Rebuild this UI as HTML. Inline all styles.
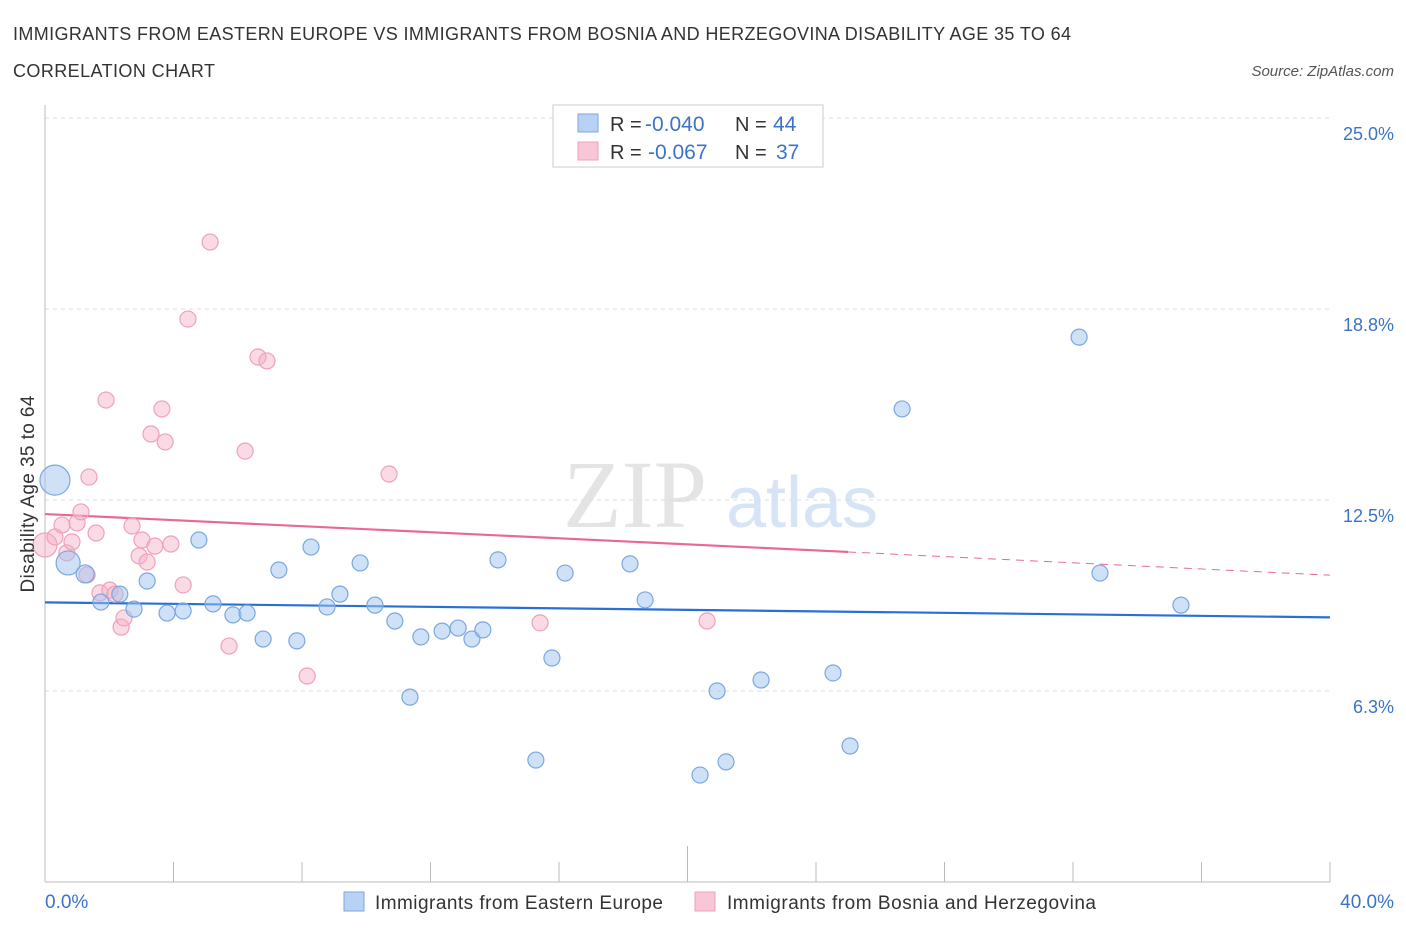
<!DOCTYPE html>
<html><head><meta charset="utf-8"><style>
body{margin:0;background:#fff;font-family:"Liberation Sans",sans-serif;}
</style></head><body>
<svg id="chart" width="1406" height="930" xmlns="http://www.w3.org/2000/svg">
<text x="13" y="40" font-size="18" fill="#333" textLength="1058">IMMIGRANTS FROM EASTERN EUROPE VS IMMIGRANTS FROM BOSNIA AND HERZEGOVINA DISABILITY AGE 35 TO 64</text>
<text x="13" y="77" font-size="18" fill="#333" textLength="202">CORRELATION CHART</text>
<text x="1394" y="76" font-size="15" fill="#555" font-style="italic" text-anchor="end">Source: ZipAtlas.com</text>
<g>
<text x="635" y="527" font-size="96" fill="#e4e4e4" text-anchor="middle" font-family="Liberation Serif,serif">ZIP</text>
<text x="802" y="527" font-size="72" fill="#d6e4f5" text-anchor="middle">atlas</text>
</g>
<g id="grid"></g>
<g id="axes"></g>
<g id="lines"></g>
<g id="pts"></g>
<g>
<rect x="553" y="105" width="270" height="62" fill="#fff" stroke="#ccc"/>
<rect x="578" y="114" width="20" height="18" fill="#b8d2f5" stroke="#7aa7e0"/>
<rect x="578" y="142" width="20" height="18" fill="#f8c6d6" stroke="#f0a0b8"/>
<text x="610" y="131" font-size="20" fill="#333">R =</text>
<text x="645" y="131" font-size="21" fill="#3b73c8">-0.040</text>
<text x="735" y="131" font-size="20" fill="#333">N =</text>
<text x="773" y="131" font-size="21" fill="#3b73c8">44</text>
<text x="610" y="159" font-size="20" fill="#333">R =</text>
<text x="648" y="159" font-size="21" fill="#3b73c8">-0.067</text>
<text x="735" y="159" font-size="20" fill="#333">N =</text>
<text x="776" y="159" font-size="21" fill="#3b73c8">37</text>
</g>
<text transform="translate(34,494) rotate(-90)" font-size="19" fill="#333" text-anchor="middle" textLength="197">Disability Age 35 to 64</text>
<text x="45" y="908" font-size="19" fill="#3b73c8">0.0%</text>
<text x="1394" y="908" font-size="19" fill="#3b73c8" text-anchor="end">40.0%</text>
<g>
<rect x="344" y="892" width="20" height="19" fill="#b8d2f5" stroke="#7aa7e0"/>
<text x="375" y="909" font-size="19" fill="#333" textLength="288">Immigrants from Eastern Europe</text>
<rect x="695" y="892" width="20" height="19" fill="#f8c6d6" stroke="#f0a0b8"/>
<text x="727" y="909" font-size="19" fill="#333" textLength="369">Immigrants from Bosnia and Herzegovina</text>
</g>
</svg>
<script>
const yTicks=[25.0,18.75,12.5,6.25];
const yTickLabels=["25.0%","18.8%","12.5%","6.3%"];
const xTicks=[0,4,8,12,16,20,24,28,32,36,40];
const blueX=[0.31,0.72,1.25,1.74,2.33,2.77,3.18,3.80,4.30,4.79,5.23,5.85,6.29,6.79,7.28,7.84,8.28,8.78,9.18,9.81,10.27,10.89,11.36,11.70,12.36,12.86,13.29,13.63,14.10,15.28,15.78,16.19,18.21,18.68,20.39,20.92,21.20,22.29,24.53,25.06,26.68,32.19,32.84,35.36];
const blueY=[13.15,10.44,10.08,9.16,9.42,8.93,9.85,8.80,8.87,11.19,9.10,8.74,8.80,7.95,10.21,7.89,10.96,9.00,9.42,10.44,9.06,8.54,6.05,8.02,8.21,8.31,7.95,8.25,10.54,3.99,7.33,10.11,10.41,9.23,3.50,6.25,3.93,6.61,6.84,4.45,15.48,17.83,10.11,9.06];
const blueR=[15,12,9,8,8,8,8,8,8,8,8,8,8,8,8,8,8,8,8,8,8,8,8,8,8,8,8,8,8,8,8,8,8,8,8,8,8,8,8,8,8,8,8,8];
const pinkX=[0,0.31,0.53,0.68,0.84,1.00,1.12,1.31,1.37,1.59,1.71,1.90,2.02,2.18,2.37,2.46,2.71,2.93,3.02,3.18,3.30,3.42,3.64,3.74,3.92,4.30,4.45,5.14,5.73,6.23,6.63,6.91,8.16,10.71,15.41,20.61];
const pinkY=[11.03,11.29,11.68,10.77,11.13,11.75,12.11,10.05,13.25,11.42,9.46,15.77,9.55,9.42,8.34,8.64,11.65,10.67,11.19,10.47,14.66,10.99,15.48,14.40,11.06,9.72,18.42,20.94,7.72,14.10,17.18,17.05,6.74,13.35,8.48,8.54];
const blueTrendX=[0,40], blueTrendY=[9.15,8.66];
const pinkTrendX=[0,25,40], pinkTrendY=[12.04,10.80,10.04];
const NS="http://www.w3.org/2000/svg";
const xs=v=>45+v/40*1285, ys=v=>882-v*30.56;
function mk(tag,attrs,parent){const e=document.createElementNS(NS,tag);for(const k in attrs)e.setAttribute(k,attrs[k]);parent.appendChild(e);return e;}
const grid=document.getElementById('grid'),axes=document.getElementById('axes'),lines=document.getElementById('lines'),pts=document.getElementById('pts');
yTicks.forEach((t,i)=>{
 const l=mk('line',{x1:45,x2:1330,y1:ys(t),y2:ys(t),stroke:'#ddd','stroke-dasharray':'4,4'},grid);
 
 
 const tx=mk('text',{x:1394,y:ys(t)+22,'font-size':18,fill:'#3b73c8','text-anchor':'end'},grid);
 tx.textContent=yTickLabels[i];
 
 
});
const ax=mk('line',{x1:45,x2:45,y1:105,y2:882,stroke:'#bbb'},axes);


const bx=mk('line',{x1:45,x2:1330,y1:882,y2:882,stroke:'#bbb'},axes);


xTicks.forEach(t=>{
 const l=mk('line',{x1:xs(t),x2:xs(t),y1:t===20?846:862,y2:882,stroke:'#bbb'},axes);
 
 
});
function pl(X,Y,col,dash,name){
 const l=mk('line',{x1:xs(X[0]),y1:ys(Y[0]),x2:xs(X[1]),y2:ys(Y[1]),stroke:col,'stroke-width':dash?1:2.2,'stroke-dasharray':dash?'8,6':'none'},lines);
 
 
}
pl(blueTrendX,blueTrendY,'#2a6fd6',false,'blue-trend-line');
pl(pinkTrendX.slice(0,2),pinkTrendY.slice(0,2),'#e8689a',false,'pink-trend-line');
pl(pinkTrendX.slice(1,3),pinkTrendY.slice(1,3),'#e8689a',true,'pink-trend-extension');
pinkX.forEach((x,i)=>{
 const c=mk('circle',{cx:xs(x),cy:ys(pinkY[i]),r:i===0?12:8,fill:'rgba(245,175,198,0.45)',stroke:'#f0a0b8','stroke-width':1.2},pts);
 
 
});
blueX.forEach((x,i)=>{
 const c=mk('circle',{cx:xs(x),cy:ys(blueY[i]),r:blueR[i],fill:'rgba(160,195,240,0.5)',stroke:'#7aa7e0','stroke-width':1.2},pts);
 
 
});
</script>
</body></html>
